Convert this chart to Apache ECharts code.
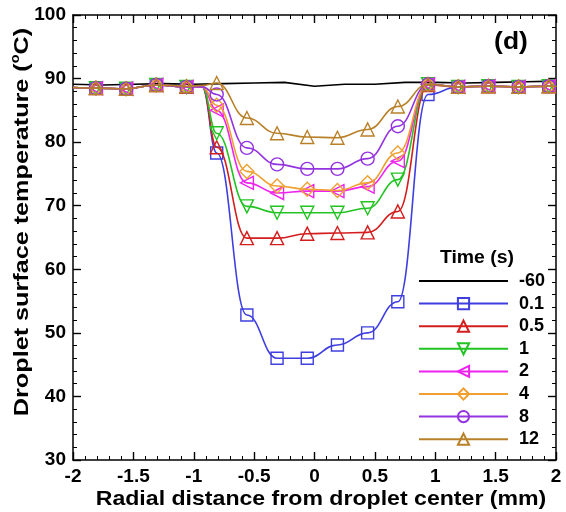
<!DOCTYPE html>
<html>
<head>
<meta charset="utf-8">
<script src="https://cdn.jsdelivr.net/npm/echarts@6/dist/echarts.min.js"></script>
<style>
  html, body { margin: 0; padding: 0; background: #fff; }
  #chart { width: 566px; height: 512px; }
</style>
</head>
<body>
<div id="chart"></div>
<script>
// Radial positions (mm) where the sampled markers sit
const markX = [-1.81, -1.56, -1.31, -1.06, -0.81, -0.56, -0.31, -0.06, 0.19, 0.44, 0.69, 0.94, 1.19, 1.44, 1.69, 1.94];

// Unmarked curve points: left edge, left knee, right edge
const edgeX = [-2, -0.93, 2];

// Surface temperature (°C) at markX for each time
const t01 = [88.5, 88.4, 89.0, 88.7, 78.3, 52.8, 46.0, 46.0, 48.1, 50.0, 54.9, 87.5, 88.7, 88.8, 88.7, 88.8];
const t05 = [88.5, 88.4, 89.0, 88.7, 79.2, 64.9, 64.9, 65.6, 65.7, 65.8, 69.1, 89.0, 88.7, 88.8, 88.7, 88.8];
const t1  = [88.5, 88.4, 89.0, 88.7, 81.4, 69.9, 68.9, 68.9, 68.9, 69.6, 74.1, 89.1, 88.7, 88.8, 88.7, 88.8];
const t2  = [88.5, 88.4, 89.0, 88.7, 85.0, 73.6, 72.0, 72.3, 72.3, 73.0, 77.0, 89.1, 88.7, 88.8, 88.7, 88.8];
const t4  = [88.5, 88.4, 89.0, 88.7, 85.8, 75.4, 73.1, 72.6, 72.4, 73.6, 78.3, 89.1, 88.7, 88.8, 88.7, 88.8];
const t8  = [88.5, 88.4, 89.0, 88.7, 87.5, 79.1, 76.5, 75.8, 75.8, 77.4, 82.5, 89.1, 88.7, 88.8, 88.7, 88.8];
const t12 = [88.5, 88.4, 89.0, 88.8, 89.3, 83.8, 81.4, 80.8, 80.7, 82.0, 85.6, 89.1, 88.7, 88.8, 88.7, 88.8];

// Temperatures at edgeX for each time
const e01 = [88.6, 88.7, 88.8];
const e05 = [88.6, 88.7, 88.8];
const e1  = [88.6, 88.7, 88.8];
const e2  = [88.6, 88.7, 88.8];
const e4  = [88.6, 88.7, 88.8];
const e8  = [88.6, 88.7, 88.8];
const e12 = [88.6, 88.9, 88.8];

// Initial profile (t = -60 s), before the droplet lands
const baseX = [-2, -1.75, -1.5, -1.25, -1, -0.75, -0.5, -0.25, 0, 0.25, 0.5, 0.75, 1, 1.25, 1.5, 1.75, 2];
const base  = [89.1, 89.0, 89.1, 89.2, 89.1, 89.2, 89.3, 89.4, 88.8, 89.1, 89.1, 89.4, 89.4, 89.3, 89.4, 89.5, 89.6];

const timeLabels = ['-60', '0.1', '0.5', '1', '2', '4', '8', '12'];
const xTicks = [-2, -1.5, -1, -0.5, 0, 0.5, 1, 1.5, 2];
const yTicks = [30, 40, 50, 60, 70, 80, 90, 100];

const FONT = '"Liberation Sans", Arial, sans-serif';

function profile(vals, edges) {
  const pts = markX.map((x, i) => ({ value: [x, vals[i]] }));
  edgeX.forEach((x, i) => pts.push({ value: [x, edges[i]], symbol: 'none' }));
  pts.sort((a, b) => a.value[0] - b.value[0]);
  return pts;
}

const styles = [
  { color: '#000000', symbol: 'none' },
  { color: '#3f3fe0', symbol: 'rect', size: 12 },
  { color: '#d41e1e', symbol: 'triangle', size: 13 },
  { color: '#22c322', symbol: 'triangle', size: 13, rotate: 180 },
  { color: '#ee22ee', symbol: 'triangle', size: 13, rotate: 90 },
  { color: '#f0a030', symbol: 'diamond', size: 14 },
  { color: '#9433e0', symbol: 'circle', size: 13 },
  { color: '#b88028', symbol: 'triangle', size: 13 }
];

const profiles = [
  baseX.map((x, i) => [x, base[i]]),
  profile(t01, e01), profile(t05, e05), profile(t1, e1), profile(t2, e2),
  profile(t4, e4), profile(t8, e8), profile(t12, e12)
];

const series = profiles.map((data, k) => {
  const s = styles[k];
  const cfg = {
    name: timeLabels[k],
    type: 'line',
    data: data,
    xAxisIndex: 0,
    yAxisIndex: 0,
    lineStyle: { color: s.color, width: 1.6 },
    itemStyle: k === 0
      ? { color: 'rgba(0,0,0,0)', borderColor: 'rgba(0,0,0,0)', borderWidth: 0 }
      : { color: 'rgba(255,255,255,0)', borderColor: s.color, borderWidth: 1.4 },
    symbol: s.symbol,
    symbolSize: s.size || 0,
    symbolRotate: s.rotate || 0,
    showAllSymbol: true,
    animation: false,
    z: 2 + k
  };
  if (k > 0) { cfg.smooth = 0.45; cfg.smoothMonotone = 'x'; }
  return cfg;
});

const tickStyle = {
  axisLine: { show: true, onZero: false, lineStyle: { color: '#000', width: 1.5 } },
  axisTick: { show: true, inside: true, length: 8, lineStyle: { color: '#000', width: 1.4 } },
  minorTick: { show: true, splitNumber: 5, length: 4, lineStyle: { color: '#000', width: 1 } },
  splitLine: { show: false }
};

const labelStyle = { color: '#000', fontSize: 19, fontWeight: 'bold', fontFamily: FONT };

const chart = echarts.init(document.getElementById('chart'), null, { renderer: 'canvas' });
chart.setOption({
  backgroundColor: '#fff',
  animation: false,
  grid: { left: 73, right: 10, top: 15, bottom: 52 },
  xAxis: [
    Object.assign({
      type: 'value', min: xTicks[0], max: xTicks[xTicks.length - 1], interval: 0.5,
      position: 'bottom',
      axisLabel: Object.assign({ margin: 7 }, labelStyle)
    }, tickStyle),
    Object.assign({
      type: 'value', min: xTicks[0], max: xTicks[xTicks.length - 1], interval: 0.5,
      position: 'top', axisLabel: { show: false }
    }, tickStyle)
  ],
  yAxis: [
    Object.assign({
      type: 'value', min: yTicks[0], max: yTicks[yTicks.length - 1], interval: 10,
      position: 'left',
      axisLabel: Object.assign({ margin: 7 }, labelStyle)
    }, tickStyle),
    Object.assign({
      type: 'value', min: yTicks[0], max: yTicks[yTicks.length - 1], interval: 10,
      position: 'right', axisLabel: { show: false }
    }, tickStyle)
  ],
  legend: {
    orient: 'vertical',
    left: 413, top: 267, padding: 5,
    itemWidth: 89, itemHeight: 14, itemGap: 4.6,
    data: timeLabels,
    textStyle: { color: '#000', fontSize: 18, fontWeight: 'bold', fontFamily: FONT, padding: [0, 0, 0, 6] }
  },
  graphic: [
    {
      type: 'text', x: 321, y: 499, scaleX: 1.1,
      style: {
        text: 'Radial distance from droplet center (mm)',
        fill: '#000', font: 'bold 21px ' + FONT, align: 'center', verticalAlign: 'middle'
      }
    },
    {
      type: 'text', x: 22, y: 222, rotation: Math.PI / 2, scaleX: 1.2,
      style: {
        text: '{a|Droplet surface temperature (}{s|o}{a|C)}',
        align: 'center', verticalAlign: 'middle',
        rich: {
          a: { fill: '#000', fontSize: 21, fontWeight: 'bold', fontFamily: FONT, lineHeight: 24 },
          s: { fill: '#000', fontSize: 12, fontWeight: 'bold', fontFamily: FONT, lineHeight: 12, verticalAlign: 'top' }
        }
      }
    },
    {
      type: 'text', x: 477, y: 258, scaleX: 1.08,
      style: { text: 'Time (s)', fill: '#000', font: 'bold 18px ' + FONT, align: 'center', verticalAlign: 'middle' }
    },
    {
      type: 'text', x: 511, y: 43, scaleX: 1.15,
      style: { text: '(d)', fill: '#000', font: 'bold 23px ' + FONT, align: 'center', verticalAlign: 'middle' }
    }
  ],
  series: series
});
</script>
</body>
</html>
